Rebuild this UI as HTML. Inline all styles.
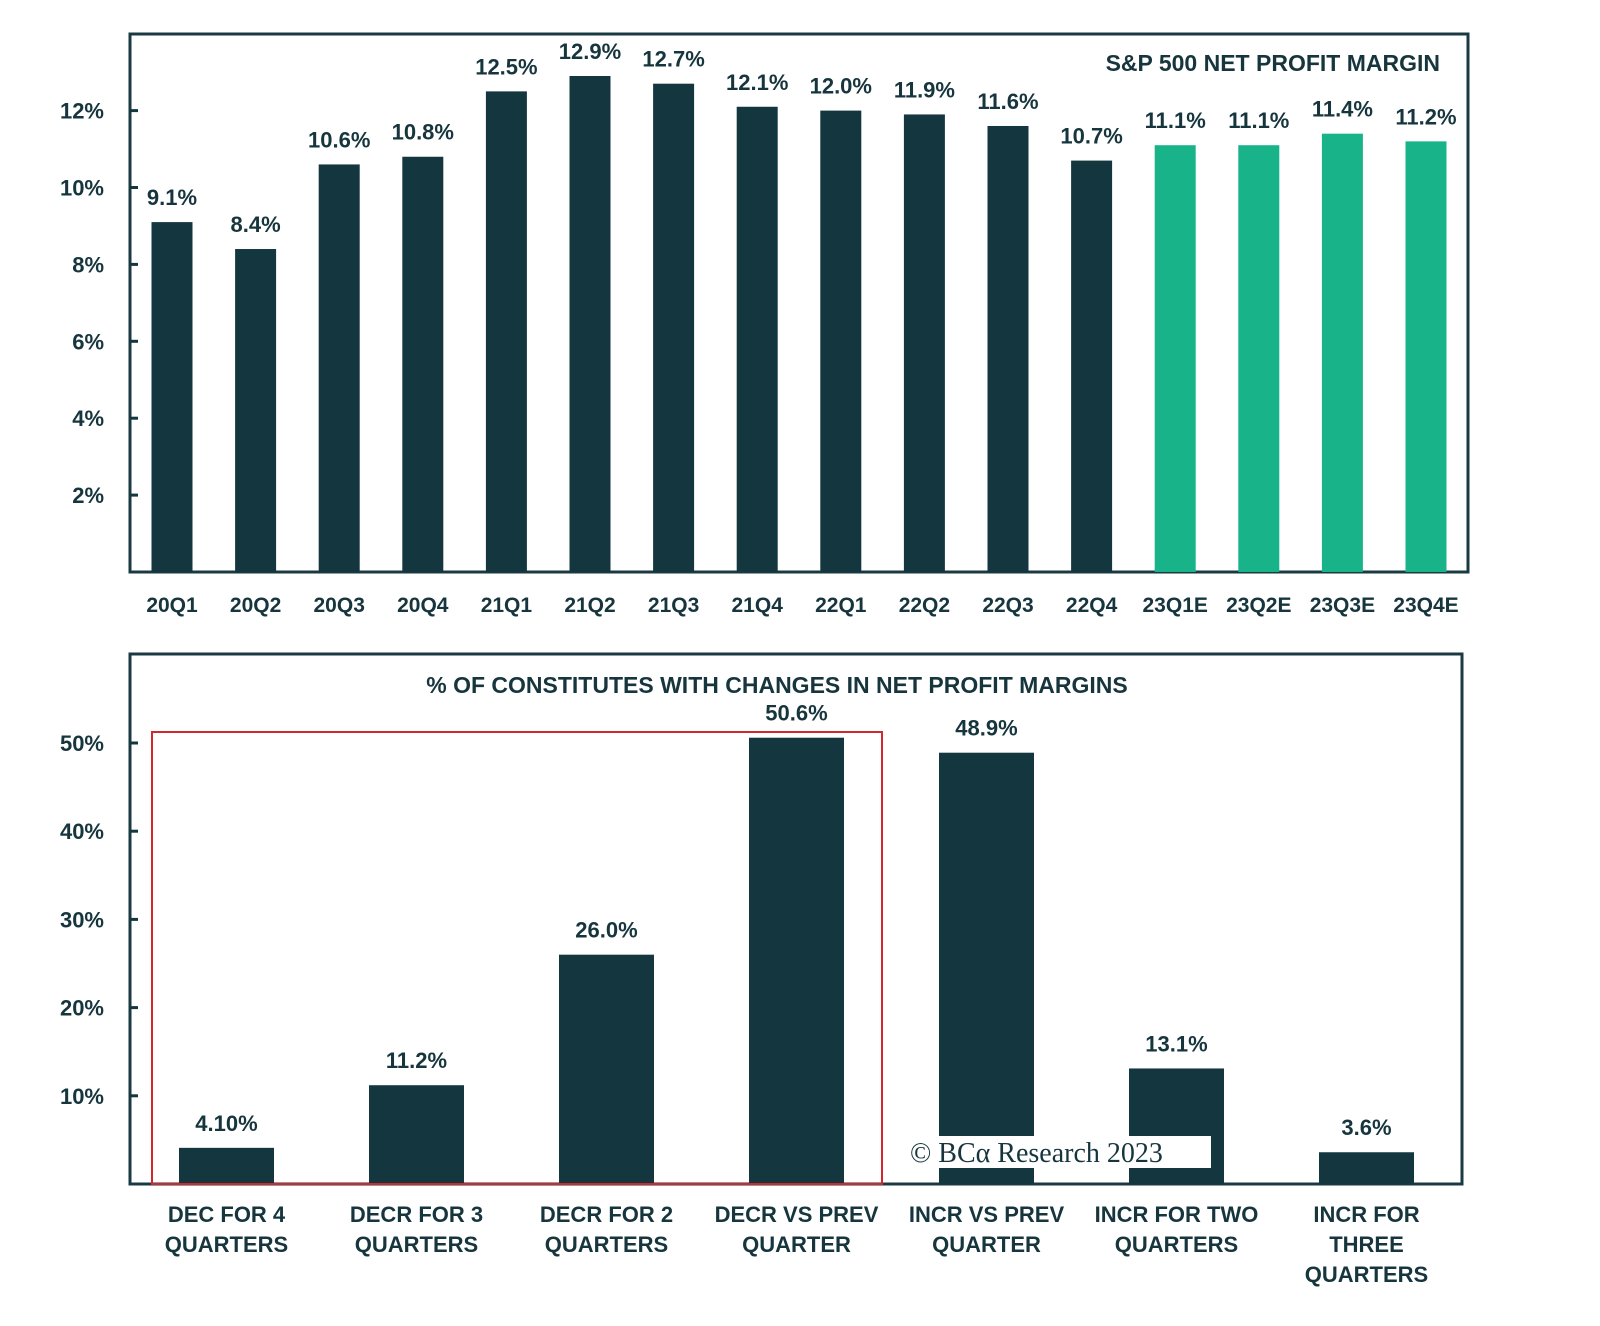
<!DOCTYPE html>
<html><head><meta charset="utf-8">
<style>
html,body{margin:0;padding:0;background:#fff;}
body{width:1600px;height:1321px;overflow:hidden;}
svg text{font-family:"Liberation Sans",sans-serif;fill:#16353d;}
</style></head>
<body>
<svg id="chart" width="1600" height="1321" viewBox="0 0 1600 1321">
<g id="top">
  <rect x="130" y="34" width="1338" height="538" fill="none" stroke="#1a3a42" stroke-width="3"/>
  <text x="1440" y="71" text-anchor="end" font-size="23" font-weight="bold">S&amp;P 500 NET PROFIT MARGIN</text>
</g>
<g id="bottom">
  <rect x="130" y="654" width="1332" height="530" fill="none" stroke="#1a3a42" stroke-width="3"/>
  <text x="777" y="693" text-anchor="middle" font-size="23" font-weight="bold">% OF CONSTITUTES WITH CHANGES IN NET PROFIT MARGINS</text>
</g>
</svg>
<script>
const topCats=["20Q1","20Q2","20Q3","20Q4","21Q1","21Q2","21Q3","21Q4","22Q1","22Q2","22Q3","22Q4","23Q1E","23Q2E","23Q3E","23Q4E"];
const topValues=[9.1,8.4,10.6,10.8,12.5,12.9,12.7,12.1,12.0,11.9,11.6,10.7,11.1,11.1,11.4,11.2];
const topLabels=["9.1%","8.4%","10.6%","10.8%","12.5%","12.9%","12.7%","12.1%","12.0%","11.9%","11.6%","10.7%","11.1%","11.1%","11.4%","11.2%"];
const topEstimate=[0,0,0,0,0,0,0,0,0,0,0,0,1,1,1,1];
const topTicks=[2,4,6,8,10,12];
const botCats=[["DEC FOR 4","QUARTERS"],["DECR FOR 3","QUARTERS"],["DECR FOR 2","QUARTERS"],["DECR VS PREV","QUARTER"],["INCR VS PREV","QUARTER"],["INCR FOR TWO","QUARTERS"],["INCR FOR","THREE","QUARTERS"]];
const botValues=[4.1,11.2,26.0,50.6,48.9,13.1,3.6];
const botLabels=["4.10%","11.2%","26.0%","50.6%","48.9%","13.1%","3.6%"];
const botTicks=[10,20,30,40,50];

const NS="http://www.w3.org/2000/svg";
function mk(tag,attrs,parent,txt){const e=document.createElementNS(NS,tag);for(const k in attrs)e.setAttribute(k,attrs[k]);if(txt!==undefined)e.textContent=txt;parent.appendChild(e);return e;}
const DARK="#14373f",GREEN="#19b38a";

const tY=v=>572-v*38.45;
const tX=i=>172+i*83.6;
const gTop=document.getElementById("top");
topTicks.forEach(t=>{
  const l=mk("line",{x1:130,x2:138,y1:tY(t),y2:tY(t),stroke:DARK,"stroke-width":3},gTop);
  
  
  const tx=mk("text",{x:104,y:tY(t)+8,"text-anchor":"end","font-size":22,"font-weight":"bold"},gTop,t+"%");
  
  
});
topCats.forEach((c,i)=>{
  const x=tX(i),v=topValues[i];
  const r=mk("rect",{x:x-20.5,y:tY(v),width:41,height:572-tY(v),fill:topEstimate[i]?GREEN:DARK},gTop);
  
  
  const vl=mk("text",{x:x,y:tY(v)-17,"text-anchor":"middle","font-size":22,"font-weight":"bold"},gTop,topLabels[i]);
  
  
  const cl=mk("text",{x:x,y:612,"text-anchor":"middle","font-size":21,"font-weight":"bold"},gTop,c);
  
  
});

const bY=v=>1184-v*8.82;
const bX=i=>226.5+i*190;
const gBot=document.getElementById("bottom");
botTicks.forEach(t=>{
  const l=mk("line",{x1:130,x2:138,y1:bY(t),y2:bY(t),stroke:DARK,"stroke-width":3},gBot);
  
  
  const tx=mk("text",{x:104,y:bY(t)+8,"text-anchor":"end","font-size":22,"font-weight":"bold"},gBot,t+"%");
  
  
});
botValues.forEach((v,i)=>{
  const x=bX(i);
  const r=mk("rect",{x:x-47.5,y:bY(v),width:95,height:1184-bY(v),fill:DARK},gBot);
  
  
  const vl=mk("text",{x:x,y:bY(v)-17,"text-anchor":"middle","font-size":22,"font-weight":"bold"},gBot,botLabels[i]);
  
  
  botCats[i].forEach((line,j)=>{
    const cl=mk("text",{x:x,y:1222+j*30,"text-anchor":"middle","font-size":22,"font-weight":"bold"},gBot,line);
    
    
  });
});
const hb=mk("rect",{x:152,y:732,width:730,height:452,fill:"none",stroke:"#d0282c","stroke-width":2},gBot);


const wb=mk("rect",{x:905,y:1136,width:306,height:32,fill:"#fff"},gBot);


const wt=mk("text",{x:910,y:1162,"font-size":28,style:"font-family:'Liberation Serif',serif;fill:#16353d"},gBot,"© BCα Research 2023");


</script>
</body></html>
